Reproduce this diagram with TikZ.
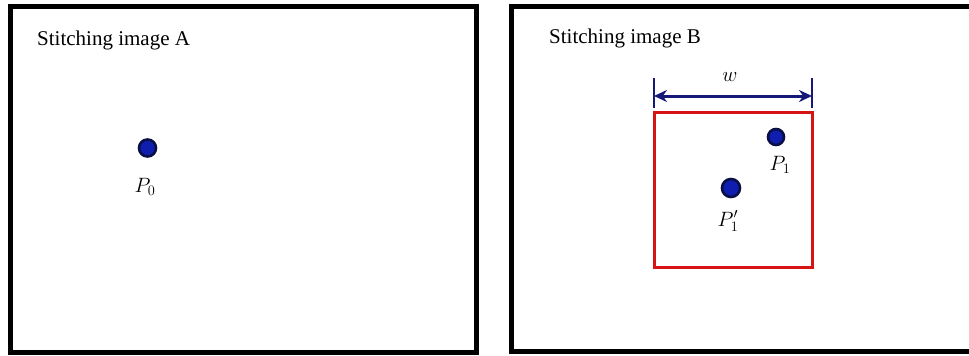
\documentclass[tikz,border=0pt]{standalone}
\usepackage{fontspec}
\setmainfont{Liberation Serif}
\usetikzlibrary{arrows.meta}
\definecolor{dotblue}{RGB}{15,30,175}
\definecolor{dotrim}{RGB}{10,15,70}
\definecolor{navyline}{RGB}{20,25,120}
\definecolor{framered}{RGB}{215,20,20}
\tikzset{
    frame/.style={line width=5pt},
    feature/.style={circle, draw=dotrim, fill=dotblue, line width=2.6pt, inner sep=0pt, minimum size=#1},
    ptlabel/.style={font=\fontsize{21}{24}\selectfont, inner sep=0pt},
    title/.style={font=\fontsize{21}{24}\selectfont, anchor=base west, inner sep=0pt}
}
\begin{document}
\begin{tikzpicture}[x=1pt,y=-1pt]
    \useasboundingbox (0,0) rectangle (969,356);

    % Frames
    \draw[frame] (10,6) rectangle (476,352);
    \draw[frame] (969,6) -- (511,6) -- (511,351) -- (969,351);

    % Titles
    \node[title] (titleA) at (37,45) {Stitching image A};
    \node[title] (titleB) at (549,43) {Stitching image B};

    % Image A
    \node[feature=17pt] (p0) at (147.5,148) {};
    \node[ptlabel] (p0lab) at (145,187) {$P_0$};

    % Search window
    \draw[framered, line width=3pt] (654,112) rectangle (812,267);
    \coordinate (wl) at (654,96);
    \coordinate (wr) at (812,96);
    \draw[navyline, line width=2.4pt] (654,78) -- (654,108);
    \draw[navyline, line width=2.4pt] (812,78) -- (812,108);
    \draw[navyline, line width=3pt, {Stealth[length=13pt,width=12pt]}-{Stealth[length=13pt,width=12pt]}] (wl) -- (wr);
    \node[ptlabel] (wlab) at (730,77) {$w$};

    % Image B
    \node[feature=16pt] (p1) at (776,137) {};
    \node[ptlabel] (p1lab) at (780,165) {$P_1$};
    \node[feature=18pt] (p1b) at (731,188) {};
    \node[ptlabel] (p1blab) at (728,221) {$P_1'$};
\end{tikzpicture}
\end{document}
